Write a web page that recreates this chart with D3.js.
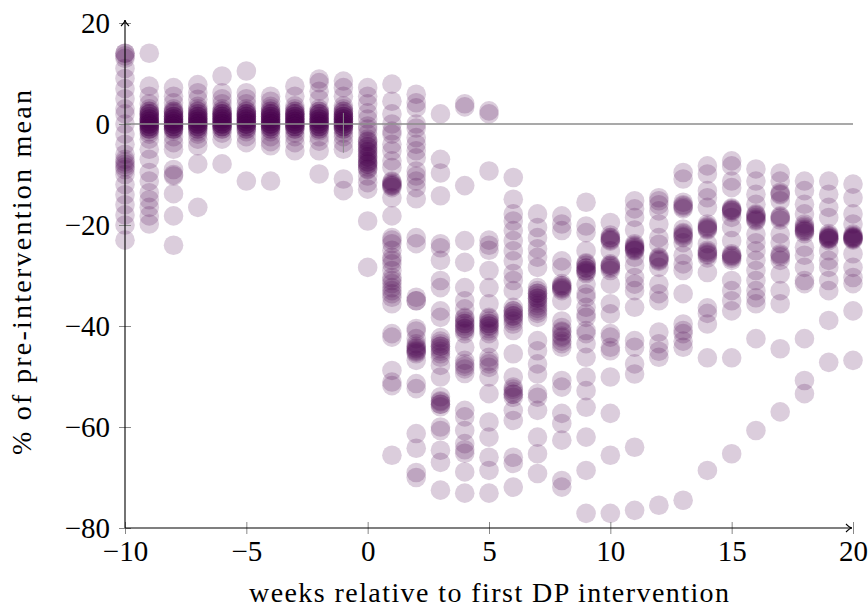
<!DOCTYPE html>
<html>
<head>
<meta charset="utf-8">
<script src="https://cdn.jsdelivr.net/npm/d3@7"></script>
<style>
    body { margin: 0; background: #fff; }
    svg { font-family: "Liberation Serif", "Times New Roman", serif; }
    .tick-mark { stroke: #888; stroke-width: 1; }
</style>
</head>
<body>
<svg id="chart" width="868" height="609"></svg>
<script>
// x positions: weeks relative to first intervention
var weeks = [-10, -9, -8, -7, -6, -5, -4, -3, -2, -1, 0, 1, 2, 3, 4, 5, 6, 7, 8, 9, 10, 11, 12, 13, 14, 15, 16, 17, 18, 19, 20];

// observed values (% of pre-intervention mean), one list per week
var values = [
    [14, 14, 13.5, 13, 11, 9, 7, 5, 3, 2, 0, -2, -4, -6, -7, -7.5, -8, -8.5, -9, -10, -12, -14, -16, -18, -20, -23],
    [14, 7.5, 5.5, 4, 3, 2.5, 2.5, 2, 2, 2, 1.5, 1.5, 1, 1, 1, 0.5, 0.5, 0.5, 0, 0, 0, 0, -0.5, -0.5, -0.5, -1, -1, -1, -1.5, -2, -3, -5, -7, -9.6, -11.3, -13.6, -15, -16.5, -18.2, -19.8],
    [7.2, 5.5, 4.2, 3, 2.5, 2.5, 2.2, 2, 1.5, 1.5, 1.5, 1, 1, 1, 0.5, 0.5, 0.5, 0, 0, 0, 0, -0.5, -0.5, -0.5, -1, -1, -1, -1.4, -2.5, -3.7, -5, -9, -10, -10.3, -13.8, -18.2, -24],
    [7.8, 6.2, 4.9, 3.5, 3, 2.5, 2.5, 2, 2, 1.5, 1.5, 1.5, 1, 1, 1, 0.5, 0.5, 0.5, 0, 0, 0, 0, -0.5, -0.5, -0.5, -1, -1, -1.5, -2, -3, -4.3, -7.9, -16.5],
    [9.5, 6.2, 5, 4, 3, 2.5, 2.5, 2, 2, 2, 1.5, 1.5, 1.5, 1, 1, 1, 0.5, 0.5, 0.5, 0, 0, 0, 0, -0.5, -0.5, -0.5, -1, -1, -1.8, -3, -7.9],
    [10.5, 6.2, 5, 4, 3, 2.5, 2.5, 2, 2, 2, 1.5, 1.5, 1.5, 1, 1, 1, 0.5, 0.5, 0.5, 0, 0, 0, 0, -0.5, -0.5, -1, -1, -1.5, -2.5, -3.7, -11.3],
    [5.5, 4.5, 3.5, 3, 2.5, 2.5, 2, 2, 2, 1.5, 1.5, 1.5, 1, 1, 1, 0.5, 0.5, 0.5, 0, 0, 0, 0, -0.5, -0.5, -0.5, -1, -1, -1.5, -2.5, -3.5, -4.3, -11.3],
    [7.5, 5.5, 3.6, 3, 2.5, 2.5, 2, 2, 2, 1.5, 1.5, 1.5, 1, 1, 1, 0.5, 0.5, 0.5, 0, 0, 0, 0, -0.5, -0.5, -0.5, -1, -1, -1.8, -2.5, -3.7, -5.3],
    [8.9, 8.2, 6.5, 4.9, 3, 2.5, 2.5, 2, 2, 2, 1.5, 1.5, 1, 1, 1, 0.5, 0.5, 0.5, 0, 0, 0, -0.5, -0.5, -0.5, -1, -1, -1.4, -2.5, -3.4, -5.3, -9.9],
    [8.5, 7.2, 5.5, 3.6, 3, 2.5, 2.5, 2, 2, 1.5, 1.5, 1.5, 1, 1, 1, 0.5, 0.5, 0.5, 0, 0, 0, -0.5, -0.5, -0.5, -1, -1, -1.8, -2.5, -3.7, -5, -10.9, -13.2],
    [7.2, 5.5, 4, 2.2, 1, -0.4, -1, -2, -3, -3.4, -3.5, -4, -4.5, -4.5, -5, -5.5, -5.5, -6, -6.5, -6.5, -7, -7.5, -7.5, -7.9, -8, -8.5, -8.9, -9, -10.3, -11.6, -12.9, -19.2, -28.4],
    [7.9, 4.5, 2, 0, -1.4, -2, -4, -5.3, -7.3, -8.6, -11.3, -11.5, -11.8, -12, -12.2, -12.3, -12.6, -14.6, -18.2, -22.5, -23, -23.7, -25, -26.4, -27, -27.7, -29, -30.4, -31, -31.6, -32.4, -33, -33.6, -34.3, -35.6, -41.5, -42.2, -48.8, -51.1, -51.8, -65.6],
    [5.9, 4.2, 3.2, 0, -0.8, -2.7, -4, -5.3, -6.7, -9.3, -10.3, -11.3, -12.6, -14.8, -22.5, -23.7, -34.3, -35, -35, -40.5, -41, -42.5, -43.5, -44, -44.3, -44.5, -44.8, -45, -45.2, -45.5, -46.8, -51.4, -52.4, -61.3, -64.2, -69, -70],
    [2, -7, -9.7, -14.2, -23.7, -24.5, -27, -31, -32.4, -37, -38.3, -42.3, -43, -43.5, -44, -44, -44.5, -45, -45.5, -46.2, -47.8, -50.1, -54, -54.8, -55, -55.5, -55.5, -56, -60, -60.7, -64.6, -67, -72.5],
    [4, 3.4, -12.2, -23.1, -27.4, -32.4, -35, -36.6, -38.3, -38.5, -39, -39.5, -39.5, -40, -40.5, -40.5, -41, -41.5, -44.2, -46.8, -47.5, -48, -48.5, -49.4, -56.7, -58, -60.7, -63.3, -64.5, -65.2, -68.9, -73.1],
    [2.6, 2, -9.3, -23, -24, -25, -29, -32.4, -35.6, -38.3, -38.5, -39, -39.5, -39.5, -40, -40, -40.5, -41, -41.5, -43.5, -46.2, -47, -47.5, -48.2, -50.1, -53.4, -59, -62, -66, -68.6, -73.1],
    [-10.6, -14.9, -17.8, -19.2, -21.1, -23.1, -25.1, -27.1, -29.6, -31, -33, -36.3, -37, -37, -37.5, -38, -38, -38.5, -39, -39.6, -40.9, -45.5, -50.1, -52.1, -52.5, -53, -53.5, -53.5, -54.1, -56.7, -58.7, -66, -67.2, -71.9],
    [-17.8, -20.5, -22.5, -24.7, -26.4, -28.4, -32.4, -33, -33.5, -33.5, -34, -34.5, -34.5, -35, -35.5, -36, -36.5, -37, -37.5, -38.3, -42.9, -44.9, -47.5, -49.5, -53.4, -54.1, -56.7, -62, -65.3, -69.2],
    [-18.2, -19.8, -21.1, -27.1, -28.4, -31.6, -32, -32, -32.3, -32.5, -32.7, -33, -35, -39, -40.3, -41, -41.2, -42, -42.3, -43, -43.5, -44.2, -50.8, -52.1, -57.3, -59.3, -62.6, -70.6, -71.9],
    [-15.5, -20.2, -21.5, -25.1, -27.5, -27.7, -28, -28.5, -28.5, -29, -29, -29.3, -29.6, -31.7, -33.6, -34.3, -36.3, -37.6, -38.3, -40.9, -41.5, -43.5, -46.2, -50.1, -52.8, -56.1, -62, -68.6, -77.1],
    [-19.5, -22, -22.5, -22.5, -22.8, -23, -23.2, -25.1, -27.7, -28, -28, -28.3, -28.6, -29, -31.7, -35.6, -37.6, -41.5, -42.2, -44.2, -44.9, -50.1, -57.3, -65.6, -77.1],
    [-15.2, -16.8, -18.5, -21, -23.7, -24, -24.2, -24.4, -24.6, -24.8, -25, -25.1, -26.4, -28, -30.4, -31.7, -33, -36.3, -42.9, -44.2, -47.5, -49.5, -64, -76.5],
    [-14.6, -15.2, -16, -17.2, -19.8, -22.5, -23.8, -26.3, -26.5, -26.8, -27, -27.2, -28.4, -31.7, -33.6, -35, -41.2, -43.5, -45, -46.2, -75.5],
    [-9.6, -10.9, -15.5, -16, -16.2, -16.5, -16.8, -20.8, -21.5, -21.7, -22, -22.3, -22.5, -23.5, -26, -27.7, -29, -33.6, -39.6, -40.9, -41.5, -43, -44.2, -74.5],
    [-8.3, -9.9, -13.2, -14.6, -16.5, -19.8, -20.2, -20.4, -20.6, -20.8, -21, -23.7, -25, -25.3, -25.5, -25.8, -26, -26.5, -29.4, -36.4, -37.5, -39.6, -46.3, -68.6],
    [-7.3, -8.3, -11.3, -12.6, -16.6, -16.8, -17, -17.1, -17.2, -17.5, -18.5, -20.5, -23.1, -25.7, -26, -26.1, -26.3, -26.6, -27, -31, -33, -35, -37, -46.3, -65.3],
    [-8.9, -11.3, -13.9, -15.9, -17.8, -18, -18.2, -18.5, -18.8, -19, -19.2, -21.8, -23.5, -25.1, -27, -29, -31, -33, -34.4, -35.6, -42.5, -60.7],
    [-9.7, -11.3, -13.5, -13.8, -14, -15.2, -18.2, -18.4, -18.6, -19, -21.8, -23.5, -25.7, -26, -26.3, -27, -29.7, -33, -35.6, -44.5, -57],
    [-11.3, -13.2, -15.9, -17.8, -19.8, -20.2, -20.5, -20.8, -21, -21.2, -21.3, -21.7, -24.4, -26, -28.4, -31, -31.6, -42.5, -50.8, -53.4],
    [-11.3, -13.9, -16.5, -18.5, -21.7, -22, -22.2, -22.3, -22.5, -22.6, -22.7, -22.8, -23.1, -25.1, -27, -28.4, -31, -33, -38.9, -47.2],
    [-11.9, -14.6, -17.8, -19.8, -21.8, -22.1, -22.3, -22.4, -22.5, -22.6, -22.7, -22.8, -23, -25.7, -28.4, -30.4, -31.6, -37, -46.8]
];

var xTicks = [-10, -5, 0, 5, 10, 15, 20];
var yTicks = [-80, -60, -40, -20, 0, 20];

var svg = d3.select("#chart"),
    margin = {top: 23, left: 125, bottom: 81, right: 15};

var width = +svg.attr("width"), height = +svg.attr("height");

var x = d3.scaleLinear().domain([-10, 20]).range([margin.left, width - margin.right]);
var y = d3.scaleLinear().domain([-80, 20]).range([height - margin.bottom, margin.top]);

var fmt = function (d) { return d < 0 ? "\u2212" + Math.abs(d) : "" + d; };

// flatten to points
var points = [];
weeks.forEach(function (w, i) {
    values[i].forEach(function (v) {
        points.push({w: w, v: v});
    });
});

// dots
svg.append("g")
    .selectAll("circle")
    .data(points)
    .enter().append("circle")
    .attr("cx", function (d) { return x(d.w); })
    .attr("cy", function (d) { return y(d.v); })
    .attr("r", 9.8)
    .style("fill", "#4a0650")
    .style("fill-opacity", 0.2);

// zero line
svg.append("line")
    .attr("x1", x(-10)).attr("x2", x(20))
    .attr("y1", y(0)).attr("y2", y(0))
    .style("stroke", "#8c8c8c")
    .style("stroke-width", 1.6);

// small mark at week -1
svg.append("line")
    .attr("x1", x(-1)).attr("x2", x(-1))
    .attr("y1", y(2.2)).attr("y2", y(-5.7))
    .style("stroke", "#8c8c8c")
    .style("stroke-width", 1);

// x axis
var xAxis = d3.axisBottom(x).tickValues(xTicks).tickSize(0).tickFormat(fmt);
var gx = svg.append("g")
    .attr("transform", "translate(0," + y(-80) + ")")
    .call(xAxis);
gx.select(".domain").remove();
gx.selectAll(".tick line").remove();
gx.selectAll(".tick").append("line")
    .attr("class", "tick-mark")
    .attr("y1", -6).attr("y2", 6);
gx.selectAll(".tick text")
    .attr("y", 12)
    .attr("dy", "0.71em")
    .style("font-size", "29px")
    .style("font-family", "Liberation Serif, serif")
    .style("fill", "#000");

// y axis
var yAxis = d3.axisLeft(y).tickValues(yTicks).tickSize(0).tickFormat(fmt);
var gy = svg.append("g")
    .attr("transform", "translate(" + x(-10) + ",0)")
    .call(yAxis);
gy.select(".domain").remove();
gy.selectAll(".tick line").remove();
gy.selectAll(".tick").append("line")
    .attr("class", "tick-mark")
    .attr("x1", -6).attr("x2", 6);
gy.selectAll(".tick text")
    .attr("x", -15)
    .attr("dy", "0.33em")
    .style("font-size", "29px")
    .style("font-family", "Liberation Serif, serif")
    .style("fill", "#000");

// axis lines with arrow heads
svg.append("line")
    .attr("x1", x(-10)).attr("x2", x(-10))
    .attr("y1", y(-80)).attr("y2", y(20) - 3)
    .style("stroke", "#000").style("stroke-width", 1.1);
svg.append("line")
    .attr("x1", x(-10)).attr("x2", x(20) - 1)
    .attr("y1", y(-80)).attr("y2", y(-80))
    .style("stroke", "#000").style("stroke-width", 1.1);

var ax = x(-10), ay = y(20) - 3;
svg.append("path")
    .attr("d", "M" + (ax - 4) + "," + (ay + 6) + " Q" + ax + "," + (ay + 2) + " " + ax + "," + ay +
        " Q" + ax + "," + (ay + 2) + " " + (ax + 4) + "," + (ay + 6))
    .style("fill", "none").style("stroke", "#000").style("stroke-width", 1.1);

var bx = x(20) - 1, by = y(-80);
svg.append("path")
    .attr("d", "M" + (bx - 6) + "," + (by - 4) + " Q" + (bx - 2) + "," + by + " " + bx + "," + by +
        " Q" + (bx - 2) + "," + by + " " + (bx - 6) + "," + (by + 4))
    .style("fill", "none").style("stroke", "#000").style("stroke-width", 1.1);

// axis labels
svg.append("text")
    .attr("x", (x(-10) + x(20)) / 2)
    .attr("y", height - 7)
    .attr("text-anchor", "middle")
    .attr("textLength", 480)
    .attr("lengthAdjust", "spacing")
    .style("font-size", "28px")
    .text("weeks relative to first DP intervention");

svg.append("text")
    .attr("transform", "translate(31," + ((y(20) + y(-80)) / 2 - 3) + ") rotate(-90)")
    .attr("text-anchor", "middle")
    .attr("textLength", 365)
    .attr("lengthAdjust", "spacing")
    .style("font-size", "28px")
    .text("% of pre-intervention mean");
</script>
</body>
</html>
